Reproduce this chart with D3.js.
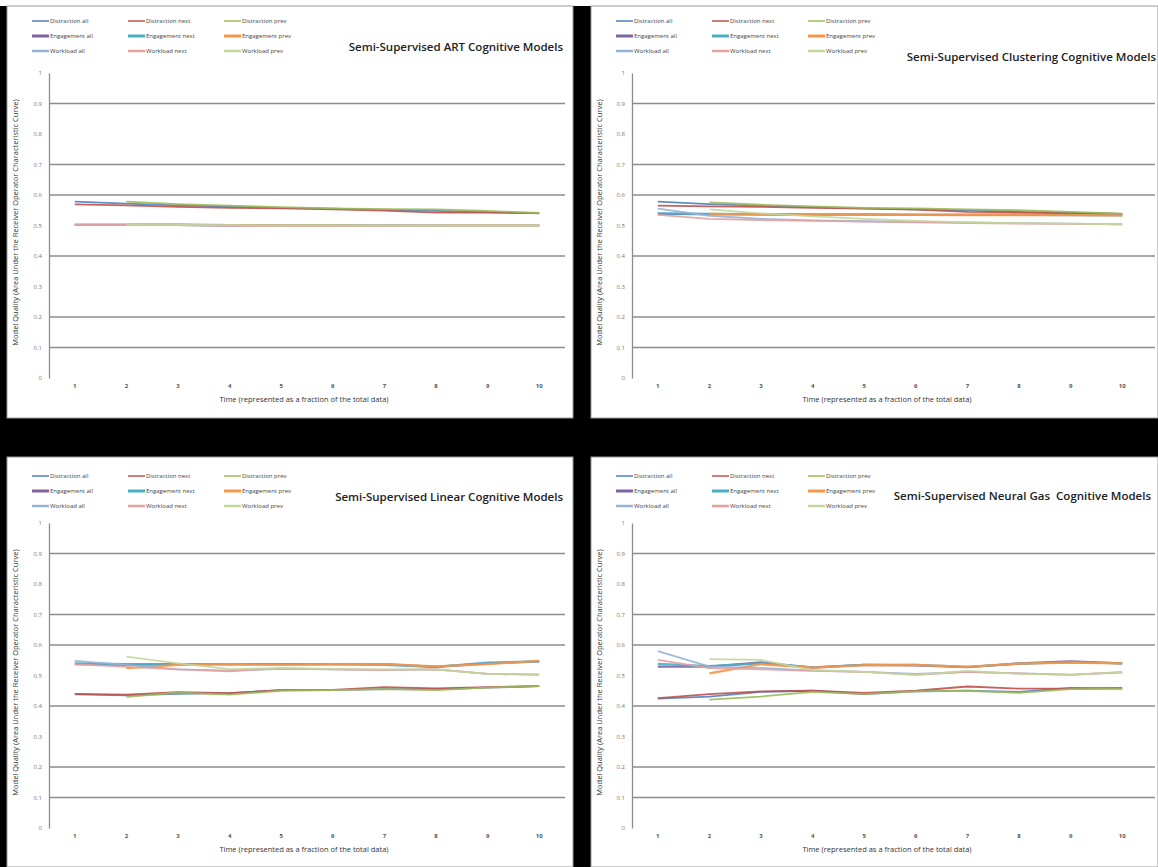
<!DOCTYPE html>
<html>
<head>
<meta charset="utf-8">
<script src="https://cdn.jsdelivr.net/npm/d3@7"></script>
<style>
  body { margin: 0; background: #000; }
  text { font-family: "Open Sans", "Liberation Sans", sans-serif; }
</style>
</head>
<body>
<div id="chart"></div>
<script>
"use-strict";

// categories on the x axis
const categories = [1, 2, 3, 4, 5, 6, 7, 8, 9, 10];
const yTicks = [0, 0.1, 0.2, 0.3, 0.4, 0.5, 0.6, 0.7, 0.8, 0.9, 1];
// only these gridlines show up in the picture
const gridValues = [0.9, 0.7, 0.6, 0.4, 0.2, 0.1];

const seriesNames = [
    "Distraction all", "Distraction next", "Distraction prev",
    "Engagement all", "Engagement next", "Engagement prev",
    "Workload all", "Workload next", "Workload prev"
];

const titles = [
    "Semi-Supervised ART Cognitive Models",
    "Semi-Supervised Clustering Cognitive Models",
    "Semi-Supervised Linear Cognitive Models",
    "Semi-Supervised Neural Gas  Cognitive Models"
];

// values, one row per series (same order as seriesNames); null = no point
const artValues = [
    [0.578, 0.572, 0.566, 0.562, 0.558, 0.555, 0.552, 0.548, 0.544, 0.540],
    [0.569, 0.566, 0.561, 0.558, 0.556, 0.553, 0.549, 0.542, 0.542, 0.541],
    [null, 0.578, 0.570, 0.565, 0.560, 0.556, 0.554, 0.553, 0.548, 0.541],
    [0.502, 0.502, 0.502, 0.501, 0.500, 0.500, 0.500, 0.500, 0.500, 0.500],
    [0.502, 0.502, 0.502, 0.500, 0.500, 0.500, 0.500, 0.500, 0.500, 0.500],
    [null, 0.502, 0.503, 0.501, 0.500, 0.500, 0.500, 0.500, 0.500, 0.500],
    [0.502, 0.502, 0.501, 0.500, 0.499, 0.499, 0.500, 0.500, 0.500, 0.500],
    [0.502, 0.502, 0.501, 0.499, 0.498, 0.498, 0.499, 0.500, 0.500, 0.500],
    [null, 0.502, 0.502, 0.501, 0.500, 0.500, 0.500, 0.500, 0.500, 0.500]
];

const clusteringValues = [
    [0.578, 0.570, 0.565, 0.560, 0.556, 0.553, 0.550, 0.545, 0.542, 0.538],
    [0.565, 0.563, 0.561, 0.558, 0.555, 0.552, 0.545, 0.543, 0.540, 0.538],
    [null, 0.576, 0.568, 0.563, 0.558, 0.556, 0.553, 0.550, 0.545, 0.539],
    [0.538, 0.537, 0.536, 0.536, 0.536, 0.535, 0.535, 0.536, 0.535, 0.534],
    [0.540, 0.538, 0.537, 0.536, 0.536, 0.535, 0.535, 0.535, 0.534, 0.534],
    [null, 0.538, 0.536, 0.535, 0.535, 0.535, 0.534, 0.534, 0.534, 0.533],
    [0.555, 0.532, 0.522, 0.517, 0.514, 0.512, 0.510, 0.508, 0.506, 0.504],
    [0.535, 0.522, 0.518, 0.515, 0.513, 0.510, 0.508, 0.506, 0.505, 0.504],
    [null, 0.553, 0.540, 0.530, 0.522, 0.515, 0.510, 0.508, 0.506, 0.504]
];

const linearValues = [
    [0.438, 0.435, 0.440, 0.442, 0.452, 0.452, 0.455, 0.455, 0.460, 0.465],
    [0.440, 0.437, 0.445, 0.442, 0.452, 0.453, 0.462, 0.458, 0.462, 0.465],
    [null, 0.430, 0.444, 0.437, 0.450, 0.452, 0.455, 0.452, 0.460, 0.466],
    [0.537, 0.535, 0.537, 0.537, 0.537, 0.537, 0.537, 0.528, 0.540, 0.546],
    [0.540, 0.537, 0.537, 0.537, 0.537, 0.537, 0.535, 0.528, 0.542, 0.546],
    [null, 0.524, 0.535, 0.537, 0.535, 0.537, 0.537, 0.530, 0.537, 0.548],
    [0.548, 0.535, 0.520, 0.516, 0.522, 0.520, 0.518, 0.520, 0.505, 0.503],
    [0.537, 0.528, 0.520, 0.514, 0.524, 0.520, 0.518, 0.520, 0.505, 0.503],
    [null, 0.562, 0.540, 0.521, 0.524, 0.522, 0.520, 0.519, 0.505, 0.503]
];

const neuralGasValues = [
    [0.424, 0.431, 0.446, 0.450, 0.439, 0.448, 0.450, 0.446, 0.459, 0.457],
    [0.426, 0.439, 0.448, 0.450, 0.443, 0.450, 0.464, 0.457, 0.457, 0.459],
    [null, 0.421, 0.431, 0.446, 0.439, 0.448, 0.450, 0.443, 0.455, 0.457],
    [0.529, 0.529, 0.543, 0.526, 0.535, 0.533, 0.527, 0.540, 0.546, 0.540],
    [0.538, 0.531, 0.540, 0.527, 0.535, 0.535, 0.528, 0.538, 0.544, 0.540],
    [null, 0.507, 0.537, 0.526, 0.534, 0.535, 0.528, 0.539, 0.542, 0.540],
    [0.580, 0.529, 0.525, 0.516, 0.512, 0.505, 0.512, 0.507, 0.503, 0.510],
    [0.551, 0.524, 0.520, 0.515, 0.512, 0.502, 0.512, 0.507, 0.502, 0.510],
    [null, 0.554, 0.551, 0.518, 0.512, 0.502, 0.515, 0.505, 0.502, 0.512]
];

const colors = [
    "#4F81BD", "#C0504D", "#9BBB59",
    "#8064A2", "#4BACC6", "#F79646",
    "#95B3D7", "#E6A0A0", "#C3D69B"
];
const lineWidths = [1.8, 1.8, 1.8, 2.2, 2.2, 2.2, 1.8, 1.8, 1.8];
const legendWidths = [1.5, 1.5, 1.5, 3, 3, 3, 2.5, 2.5, 2.5];

const msm = { width: 1158, height: 867 };

// panel layout
const panels = [
    { x: 7, y: 6, w: 566, h: 412, plotLeft: 49, plotRight: 565, gridRight: 565, top: 73, bottom: 378, titleX: 563, titleY: 51, legendY: 21, values: artValues },
    { x: 591, y: 6, w: 567, h: 412, plotLeft: 632, plotRight: 1148, gridRight: 1155, top: 73, bottom: 378, titleX: 1156, titleY: 61, legendY: 21, values: clusteringValues },
    { x: 7, y: 457, w: 566, h: 410, plotLeft: 49, plotRight: 565, gridRight: 565, top: 523, bottom: 828, titleX: 563, titleY: 501, legendY: 476, values: linearValues },
    { x: 591, y: 457, w: 567, h: 410, plotLeft: 632, plotRight: 1148, gridRight: 1155, top: 523, bottom: 828, titleX: 1151, titleY: 500, legendY: 476, values: neuralGasValues }
];

let svgContainer = d3.select("#chart")
    .append("svg")
    .attr("width", msm.width)
    .attr("height", msm.height);

svgContainer.append("rect")
    .attr("width", msm.width)
    .attr("height", msm.height)
    .attr("fill", "#000");
svgContainer.append("rect")
    .attr("width", msm.width)
    .attr("height", 6)
    .attr("fill", "#fff");

panels.forEach((p, i) => drawPanel(p, titles[i]));

function drawPanel(p, title) {
    let g = svgContainer.append("g");

    g.append("rect")
        .attr("x", p.x)
        .attr("y", p.y)
        .attr("width", p.w)
        .attr("height", p.h)
        .attr("fill", "#fff")
        .attr("stroke", "#9a9a9a")
        .attr("stroke-width", 1);

    let xScale = d3.scaleBand()
        .domain(categories)
        .range([p.plotLeft, p.plotRight]);
    let yScale = d3.scaleLinear()
        .domain([0, 1])
        .range([p.bottom, p.top]);
    let xMid = (d) => xScale(d) + xScale.bandwidth() / 2;

    // gridlines
    g.selectAll(".grid")
        .data(gridValues)
        .enter()
        .append("line")
        .attr("x1", p.plotLeft)
        .attr("x2", p.gridRight)
        .attr("y1", (d) => yScale(d))
        .attr("y2", (d) => yScale(d))
        .attr("stroke", "#8c8c8c")
        .attr("stroke-width", 1.3);

    // y axis
    let yAxis = d3.axisLeft(yScale)
        .tickValues(yTicks)
        .tickSize(0)
        .tickPadding(7)
        .tickFormat((d) => d3.format("")(+d.toFixed(1)));
    let ya = g.append("g")
        .attr("transform", "translate(" + p.plotLeft + ",0)")
        .call(yAxis);
    ya.select(".domain").attr("stroke", "#8c8c8c").attr("stroke-width", 1.3);
    ya.selectAll("text")
        .style("font-size", "6px")
        .attr("fill", "#777");

    // x axis (labels only)
    let xAxis = d3.axisBottom(xScale).tickSize(0).tickPadding(6);
    let xa = g.append("g")
        .attr("transform", "translate(0," + p.bottom + ")")
        .call(xAxis);
    xa.select(".domain").remove();
    xa.selectAll("text")
        .style("font-size", "6px")
        .style("font-weight", "bold")
        .attr("fill", "#555");

    // axis titles
    g.append("text")
        .attr("x", (p.plotLeft + p.plotRight) / 2 - 3)
        .attr("y", p.bottom + 24)
        .attr("text-anchor", "middle")
        .style("font-size", "7.5px")
        .attr("fill", "#333")
        .text("Time (represented as a fraction of the total data)");

    g.append("text")
        .attr("transform", "translate(" + (p.x + 11) + "," + ((p.top + p.bottom) / 2 - 3) + ") rotate(-90)")
        .attr("text-anchor", "middle")
        .style("font-size", "7.5px")
        .attr("fill", "#333")
        .text("Model Quality (Area Under the Receiver Operator Characteristic Curve)");

    // lines
    let line = d3.line()
        .defined((d) => d.v !== null)
        .x((d) => xMid(d.c))
        .y((d) => yScale(d.v));

    p.values.forEach((vals, k) => {
        let pts = categories.map((c, j) => ({ c: c, v: vals[j] }));
        g.append("path")
            .datum(pts)
            .attr("d", line)
            .attr("fill", "none")
            .attr("stroke", colors[k])
            .attr("stroke-width", lineWidths[k])
            .attr("stroke-opacity", 0.9);
    });

    // legend 3x3
    let colX = [p.x + 25, p.x + 121, p.x + 217];
    seriesNames.forEach((name, k) => {
        let cx = colX[k % 3];
        let cy = p.legendY + Math.floor(k / 3) * 15;
        g.append("line")
            .attr("x1", cx)
            .attr("x2", cx + 17)
            .attr("y1", cy)
            .attr("y2", cy)
            .attr("stroke", colors[k])
            .attr("stroke-width", legendWidths[k]);
        g.append("text")
            .attr("x", cx + 18)
            .attr("y", cy + 2)
            .style("font-size", "6px")
            .attr("fill", "#444")
            .text(name);
    });

    // title
    g.append("text")
        .attr("x", p.titleX)
        .attr("y", p.titleY)
        .attr("text-anchor", "end")
        .style("font-size", "11.5px")
        .style("font-weight", "600")
        .style("white-space", "pre")
        .attr("fill", "#222")
        .text(title);
}
</script>
</body>
</html>
